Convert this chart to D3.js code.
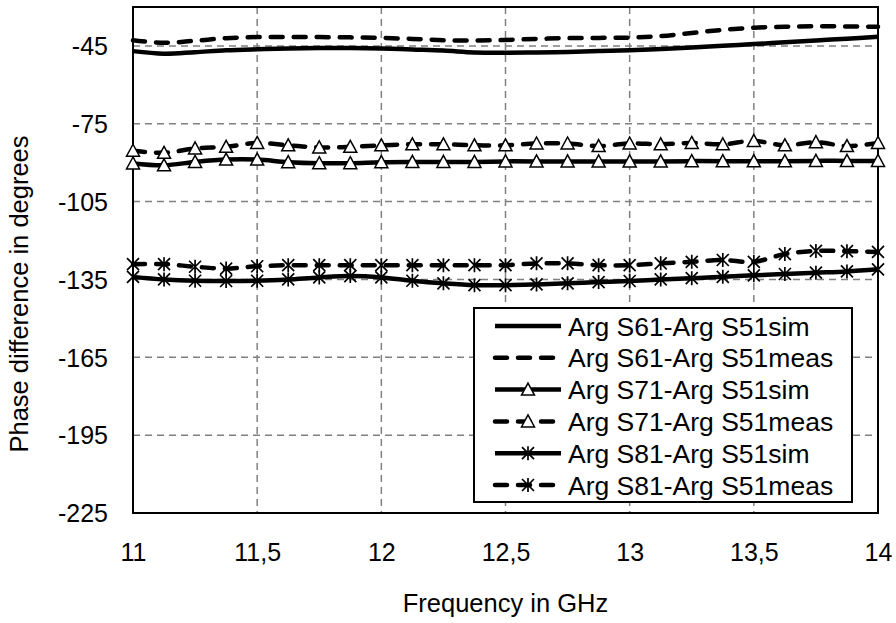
<!DOCTYPE html>
<html><head><meta charset="utf-8">
<script src="https://cdn.jsdelivr.net/npm/d3@7"></script>
<style>body{margin:0;background:#fff}svg{display:block}text{font-family:"Liberation Sans",Arial,sans-serif;fill:#000}</style>
</head><body><svg id="c" width="896" height="623"></svg>
<script>
const freq = [11,11.125,11.25,11.375,11.5,11.625,11.75,11.875,12,12.125,12.25,12.375,12.5,12.625,12.75,12.875,13,13.125,13.25,13.375,13.5,13.625,13.75,13.875,14];
const s61sim = [-47.0,-48.0,-47.4,-46.7,-46.3,-46.0,-45.8,-45.8,-46.0,-46.4,-46.8,-47.5,-47.6,-47.5,-47.3,-47.0,-46.7,-46.2,-45.6,-44.9,-44.3,-43.6,-42.9,-42.2,-41.5];
const s61meas = [-42.8,-43.8,-43.0,-42.0,-41.6,-41.6,-41.6,-41.7,-41.9,-42.3,-42.8,-42.9,-42.7,-42.3,-42.0,-41.9,-41.8,-41.2,-40.0,-38.8,-38.0,-37.6,-37.4,-37.5,-37.6];
const s71sim = [-90.3,-91.0,-89.7,-88.8,-88.8,-89.8,-90.2,-90.2,-89.8,-89.7,-89.7,-89.7,-89.5,-89.5,-89.5,-89.5,-89.5,-89.5,-89.4,-89.4,-89.4,-89.4,-89.3,-89.3,-89.3];
const s71meas = [-85.4,-86.2,-84.5,-83.9,-82.4,-83.3,-84.1,-83.9,-83.3,-82.9,-82.9,-83.3,-83.3,-82.6,-82.6,-83.6,-82.6,-82.9,-82.4,-82.9,-81.6,-83.3,-82.1,-83.6,-82.4];
const s81sim = [-134.0,-135.0,-135.5,-135.6,-135.5,-135.0,-134.2,-133.7,-134.2,-135.5,-136.5,-137.2,-137.2,-136.9,-136.5,-136.0,-135.6,-135.0,-134.5,-134.0,-133.4,-132.9,-132.4,-131.9,-131.1];
const s81meas = [-129.1,-129.1,-130.1,-130.8,-129.9,-129.5,-129.5,-129.5,-129.5,-129.5,-129.5,-129.5,-129.5,-128.8,-128.8,-129.5,-129.5,-128.8,-128.2,-127.5,-128.2,-125.2,-124.0,-124.1,-124.4];
const seriesNames = ["Arg S61-Arg S51sim","Arg S61-Arg S51meas","Arg S71-Arg S51sim","Arg S71-Arg S51meas","Arg S81-Arg S51sim","Arg S81-Arg S51meas"];
const xTicks = [11,11.5,12,12.5,13,13.5,14];
const yTicks = [-225,-195,-165,-135,-105,-75,-45];

const series = [
  {name:seriesNames[0], v:s61sim, dash:null, marker:null},
  {name:seriesNames[1], v:s61meas, dash:"12,11", marker:null},
  {name:seriesNames[2], v:s71sim, dash:null, marker:"tri"},
  {name:seriesNames[3], v:s71meas, dash:"12,11", marker:"tri"},
  {name:seriesNames[4], v:s81sim, dash:null, marker:"star"},
  {name:seriesNames[5], v:s81meas, dash:"12,11", marker:"star"}
];

const svg = d3.select("#c");
const L=133,R=878,T=7,B=513;
const x = d3.scaleLinear().domain([11,14]).range([L,R]);
const y = d3.scaleLinear().domain([-225,-30]).range([B,T]);
const fmtX = d => String(d).replace(".",",");
const fmtY = d => String(d);

// grid
const g = svg.append("g");
g.selectAll(".hg").data(yTicks.filter(t=>t>-225)).enter().append("line")
  .attr("x1",L).attr("x2",R).attr("y1",d=>y(d)).attr("y2",d=>y(d))
  .attr("stroke","#808080").attr("stroke-width",1.5).attr("stroke-dasharray","7,5");
g.selectAll(".vg").data(xTicks.filter(t=>t>11&&t<14)).enter().append("line")
  .attr("y1",T).attr("y2",B).attr("x1",d=>x(d)).attr("x2",d=>x(d))
  .attr("stroke","#808080").attr("stroke-width",1.5).attr("stroke-dasharray","7,5");

// axes via d3 axis (no tick lines)
const xa = svg.append("g").attr("transform",`translate(0,${B})`)
  .call(d3.axisBottom(x).tickValues(xTicks).tickFormat(fmtX).tickSize(0).tickPadding(0));
xa.select(".domain").remove();
xa.selectAll("text").attr("font-size",25).attr("dy",null).attr("y",48).attr("font-family",'"Liberation Sans",Arial,sans-serif').attr("fill","#000");
const ya = svg.append("g").attr("transform",`translate(${L},0)`)
  .call(d3.axisLeft(y).tickValues(yTicks).tickFormat(fmtY).tickSize(0).tickPadding(25));
ya.select(".domain").remove();
ya.selectAll("text").attr("font-size",25).attr("dy","0.35em").attr("font-family",'"Liberation Sans",Arial,sans-serif').attr("fill","#000");

svg.append("rect").attr("x",L).attr("y",T).attr("width",R-L).attr("height",B-T)
  .attr("fill","none").attr("stroke","#000").attr("stroke-width",2);

const line = d3.line().curve(d3.curveCatmullRom.alpha(0.5));
const triPath = "M0,-6.5L6.5,5.5L-6.5,5.5Z";
const starPath = "M-6,-6L6,6M-6,6L6,-6M0,-7L0,7";

function drawMarker(sel, type){
  if(type==="tri") sel.append("path").attr("d",triPath).attr("fill","#fff").attr("stroke","#000").attr("stroke-width",1.5).attr("stroke-linejoin","miter");
  else if(type==="star") sel.append("path").attr("d",starPath).attr("fill","none").attr("stroke","#000").attr("stroke-width",1.7);
}

series.forEach(s=>{
  const pts = freq.map((f,i)=>[x(f),y(s.v[i])]);
  const p = svg.append("path").attr("d",line(pts)).attr("fill","none").attr("stroke","#000")
    .attr("stroke-width",4.5).attr("stroke-linecap", s.dash?"round":"butt").attr("stroke-linejoin","round");
  if(s.dash) p.attr("stroke-dasharray",s.dash);
  if(s.marker){
    pts.forEach(q=>{ drawMarker(svg.append("g").attr("transform",`translate(${q[0]},${q[1]})`), s.marker); });
  }
});

// legend
const lg = svg.append("g");
lg.append("rect").attr("x",474).attr("y",308).attr("width",378).attr("height",194)
  .attr("fill","#fff").attr("stroke","#000").attr("stroke-width",2);
series.forEach((s,i)=>{
  const cy = 326 + i*31.8;
  const ln = lg.append("line").attr("x1",495).attr("x2",561).attr("y1",cy).attr("y2",cy)
    .attr("stroke","#000").attr("stroke-width",4.5).attr("stroke-linecap",s.dash?"round":"butt");
  if(s.dash) ln.attr("stroke-dasharray","12,11");
  if(s.marker) drawMarker(lg.append("g").attr("transform",`translate(528,${cy})`), s.marker);
  lg.append("text").attr("x",568).attr("y",cy).attr("dy","0.36em").attr("font-size",26.5).text(s.name);
});

// axis titles
svg.append("text").attr("x",(L+R)/2).attr("y",612).attr("text-anchor","middle").attr("font-size",25.5).text("Frequency in GHz");
svg.append("text").attr("transform","translate(28,294) rotate(-90)").attr("text-anchor","middle").attr("font-size",25.5).text("Phase difference in degrees");
</script></body></html>
